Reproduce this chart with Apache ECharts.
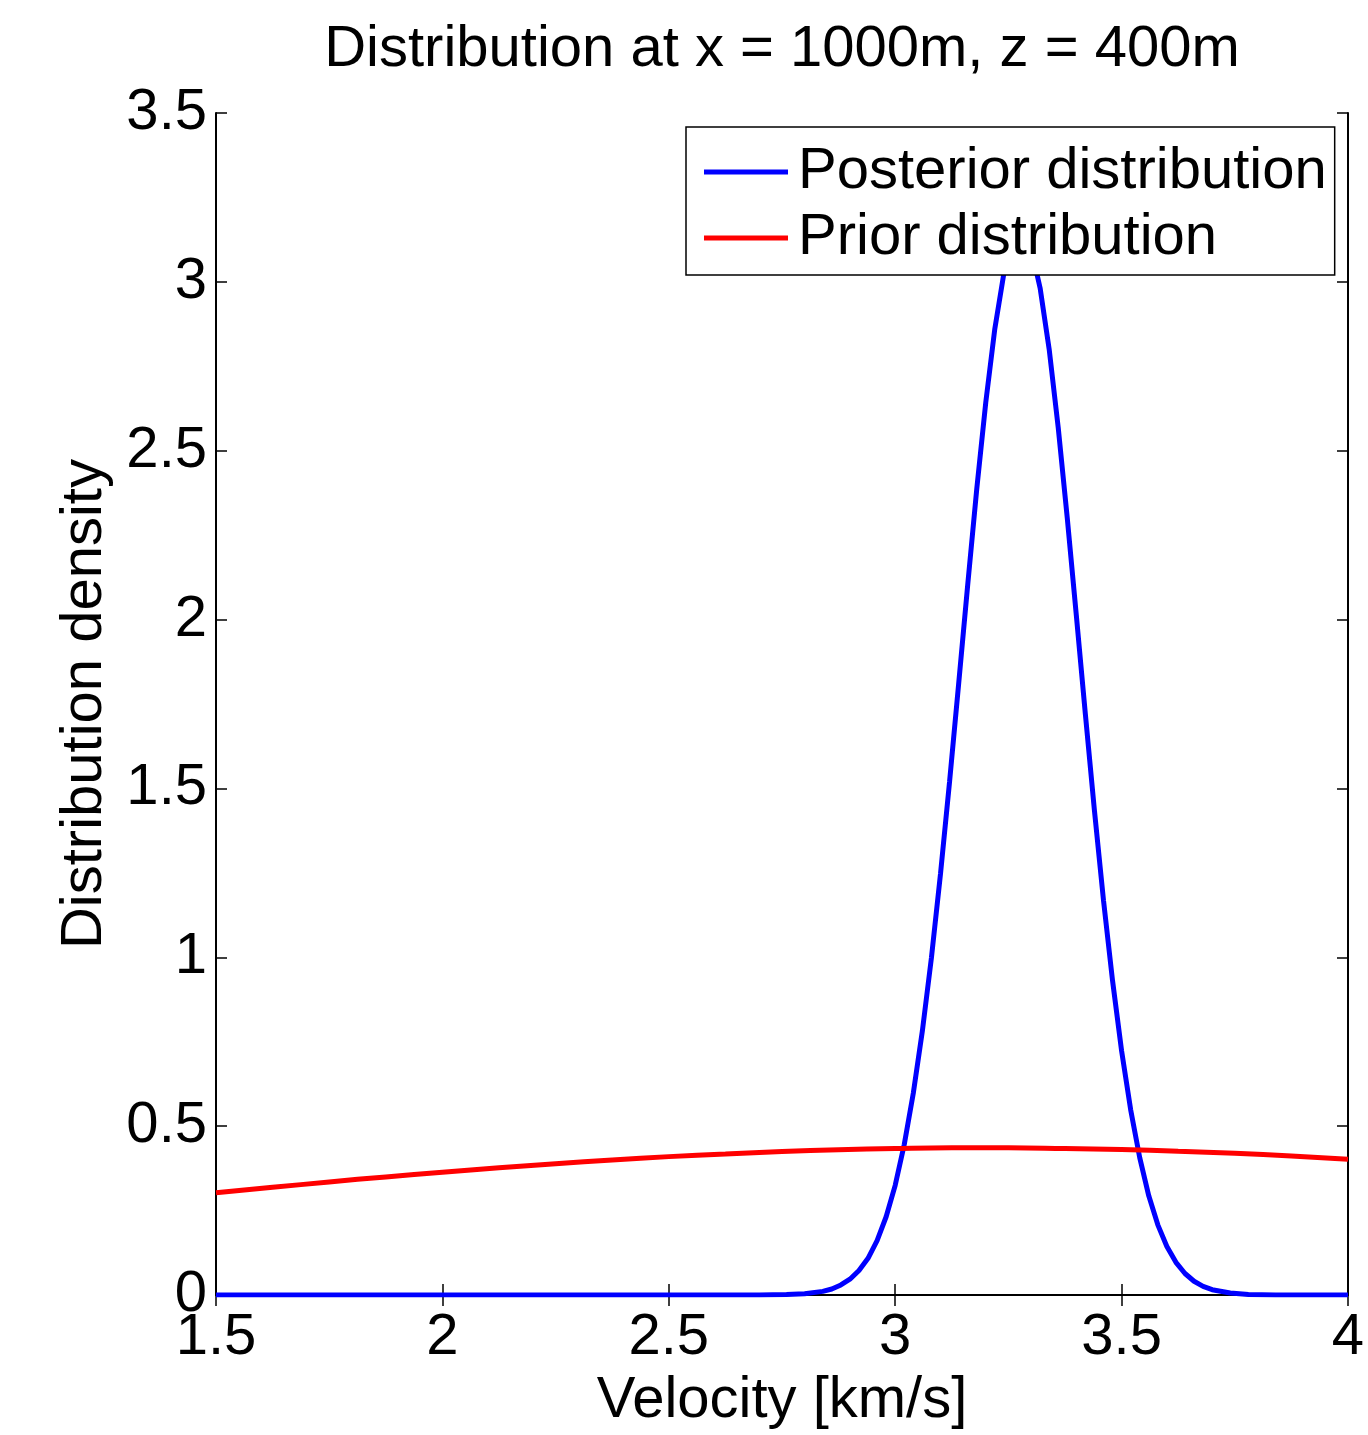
<!DOCTYPE html>
<html>
<head>
<meta charset="utf-8">
<title>Distribution at x = 1000m, z = 400m</title>
<script src="https://cdn.jsdelivr.net/npm/echarts@6/dist/echarts.min.js"></script>
<style>
  html, body { margin: 0; padding: 0; background: #ffffff; overflow: hidden; }
  #chart { width: 1368px; height: 1435px; }
</style>
</head>
<body>
<div id="chart"></div>
<script>
// Velocity samples [km/s] and posterior density
const posteriorX = [1.5, 2.0, 2.5, 2.7, 2.76, 2.8, 2.84, 2.86, 2.88, 2.9, 2.92, 2.94, 2.96, 2.98,
  3.0, 3.02, 3.04, 3.06, 3.08, 3.1, 3.12, 3.14, 3.16, 3.18, 3.2, 3.22, 3.24, 3.26, 3.28,
  3.3, 3.32, 3.34, 3.36, 3.38, 3.4, 3.42, 3.44, 3.46, 3.48, 3.5, 3.52, 3.54, 3.56, 3.58,
  3.6, 3.62, 3.64, 3.66, 3.68, 3.7, 3.74, 3.78, 3.84, 3.9, 4.0];
const posteriorY = [0, 0, 0, 0.0003, 0.002, 0.004, 0.011, 0.018, 0.030, 0.047, 0.073, 0.109, 0.161, 0.232,
  0.325, 0.446, 0.598, 0.782, 0.999, 1.247, 1.519, 1.808, 2.101, 2.385, 2.643, 2.861, 3.025, 3.123, 3.149,
  3.101, 2.982, 2.801, 2.569, 2.301, 2.013, 1.720, 1.435, 1.169, 0.931, 0.723, 0.549, 0.407, 0.294, 0.208,
  0.144, 0.097, 0.064, 0.041, 0.026, 0.016, 0.006, 0.002, 0.0004, 0, 0];

// Velocity samples [km/s] and prior density
const priorX = [1.5, 1.625, 1.75, 1.875, 2.0, 2.125, 2.25, 2.375, 2.5, 2.625, 2.75, 2.875,
  3.0, 3.125, 3.25, 3.375, 3.5, 3.625, 3.75, 3.875, 4.0];
const priorY = [0.303, 0.319, 0.335, 0.350, 0.364, 0.377, 0.389, 0.400, 0.410, 0.418, 0.425, 0.430,
  0.434, 0.436, 0.436, 0.434, 0.431, 0.426, 0.420, 0.412, 0.402];

const seriesNames = ['Posterior distribution', 'Prior distribution'];
const titleText = 'Distribution at x = 1000m, z = 400m';
const xName = 'Velocity [km/s]';
const yName = 'Distribution density';

const FONT = 'Liberation Sans, Arial, Helvetica, sans-serif';
const FS = 58;

const pairs = (xs, ys) => xs.map((x, i) => [x, ys[i]]);

const tickStyle = { inside: true, length: 11, lineStyle: { color: '#000', width: 1.5 } };
const lineStyle = { show: true, lineStyle: { color: '#000', width: 2 } };

const chart = echarts.init(document.getElementById('chart'), null, { renderer: 'canvas' });
chart.setOption({
  backgroundColor: '#ffffff',
  animation: false,
  title: {
    text: titleText,
    left: 777,
    textAlign: 'center',
    top: 16,
    textStyle: { fontFamily: FONT, fontSize: FS, fontWeight: 'normal', color: '#000' }
  },
  legend: {
    orient: 'vertical',
    left: 686,
    top: 127,
    padding: [16, 8, 8, 18],
    itemGap: 8,
    itemWidth: 84,
    itemHeight: 5,
    icon: 'rect',
    backgroundColor: '#ffffff',
    borderColor: '#000',
    borderWidth: 1.5,
    borderRadius: 0,
    textStyle: { fontFamily: FONT, fontSize: FS, color: '#000', lineHeight: 58, padding: [0, 0, 0, 5] },
    data: seriesNames
  },
  grid: { left: 216, right: 20, top: 113, bottom: 133, containLabel: false },
  xAxis: [{
    type: 'value', min: 1.5, max: 4, interval: 0.5,
    name: xName, nameLocation: 'middle', nameGap: 70,
    nameTextStyle: { fontFamily: FONT, fontSize: FS, color: '#000' },
    axisLine: lineStyle, axisTick: tickStyle, splitLine: { show: false },
    axisLabel: { fontFamily: FONT, fontSize: FS, color: '#000', margin: 14 }
  }, {
    type: 'value', min: 1.5, max: 4, interval: 0.5, position: 'top',
    axisLine: lineStyle, axisTick: tickStyle, splitLine: { show: false },
    axisLabel: { show: false }
  }],
  yAxis: [{
    type: 'value', min: 0, max: 3.5, interval: 0.5,
    name: yName, nameLocation: 'middle', nameGap: 102,
    nameTextStyle: { fontFamily: FONT, fontSize: FS, color: '#000' },
    axisLine: lineStyle, axisTick: tickStyle, splitLine: { show: false },
    axisLabel: { fontFamily: FONT, fontSize: FS, color: '#000', margin: 9 }
  }, {
    type: 'value', min: 0, max: 3.5, interval: 0.5, position: 'right',
    axisLine: lineStyle, axisTick: tickStyle, splitLine: { show: false },
    axisLabel: { show: false }
  }],
  series: [{
    name: seriesNames[0],
    type: 'line',
    data: pairs(posteriorX, posteriorY),
    showSymbol: false, symbol: 'none',
    color: '#0000ff',
    lineStyle: { color: '#0000ff', width: 5 },
    clip: true
  }, {
    name: seriesNames[1],
    type: 'line',
    data: pairs(priorX, priorY),
    showSymbol: false, symbol: 'none',
    smooth: true,
    color: '#ff0000',
    lineStyle: { color: '#ff0000', width: 5 },
    clip: true
  }]
});
</script>
</body>
</html>
